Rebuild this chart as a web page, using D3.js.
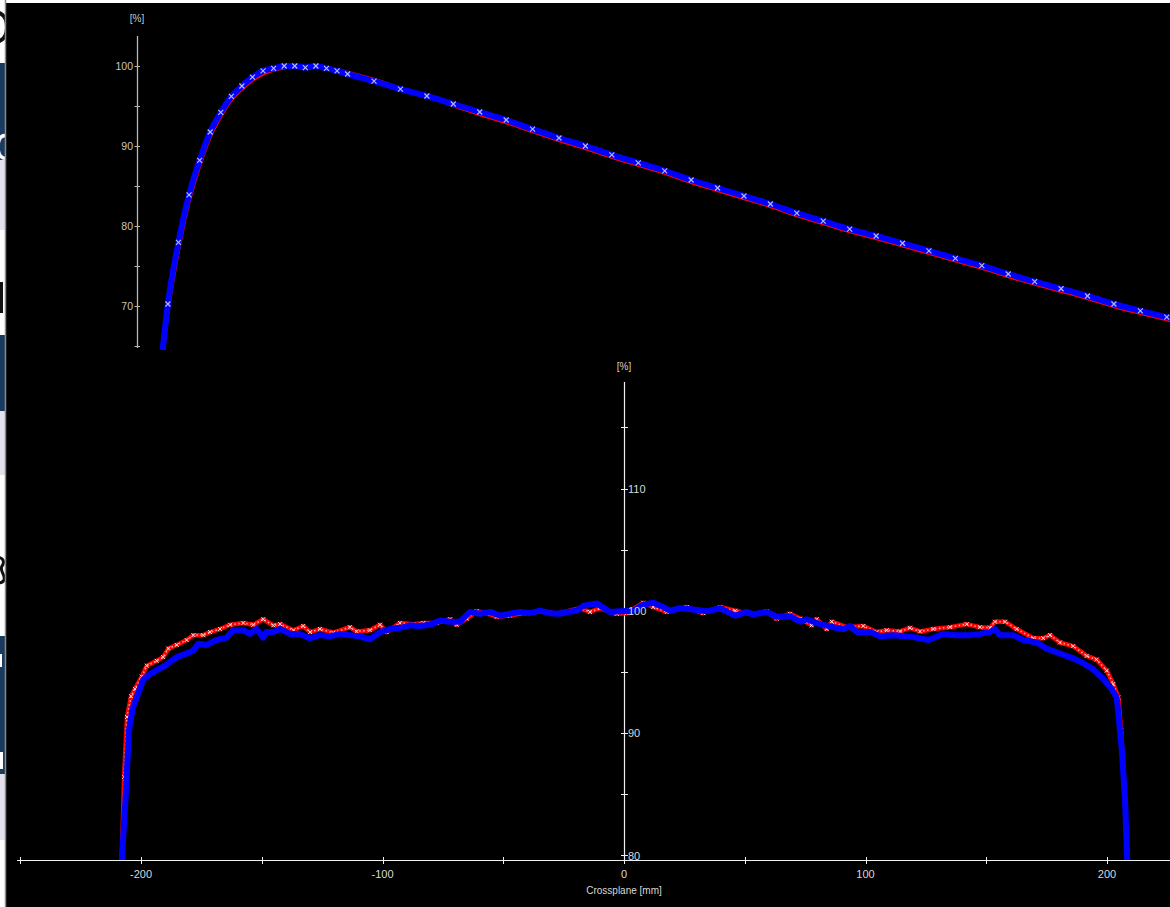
<!DOCTYPE html>
<html><head><meta charset="utf-8">
<script src="https://cdn.jsdelivr.net/npm/d3@7/dist/d3.min.js"></script>
<style>html,body{margin:0;padding:0;background:#fff;overflow:hidden}svg{display:block}</style>
</head><body>
<svg id="c" width="1170" height="907"></svg>
<script>
// ---------- DATA ----------
// Depth dose (top panel): depth in mm, dose in %
const pddDepth = [2.5,3,4,5,6,7,8,9,10,11,12,13,14,15,16,17,18,19,20,22.5,25,27.5,30,32.5,35,37.5,40,42.5,45,47.5,50,52.5,55,57.5,60,62.5,65,67.5,70,72.5,75,77.5,80,82.5,85,87.5,90,92.5,95,97.5,100];
const pddMeasured = [64.5,70.25,77.96,83.9,88.2,91.75,94.2,96.2,97.5,98.6,99.4,99.7,100,100,99.8,100,99.7,99.4,99.0,98.1,97.1,96.25,95.25,94.25,93.25,92.1,91.0,90.0,88.9,87.9,86.9,85.75,84.75,83.75,82.75,81.6,80.6,79.6,78.75,77.84,76.9,75.96,75.04,74.0,73.04,72.16,71.25,70.25,69.4,68.6,67.8];
const pddCalculated = [62.5,68.5,76.5,82.7,87.2,90.9,93.5,95.6,97.0,98.1,98.9,99.4,99.7,99.9,99.95,99.9,99.8,99.6,99.3,98.4,97.3,96.2,94.95,93.85,92.85,91.7,90.6,89.6,88.5,87.5,86.5,85.35,84.35,83.35,82.35,81.2,80.2,79.2,78.35,77.44,76.5,75.56,74.64,73.6,72.64,71.76,70.85,69.85,69.0,68.2,67.4];
const pddTicks = [70,80,90,100];
const pddMinorTicks = [65,75,85,95];

// Crossplane profile (bottom panel): position in mm, dose in %
const profBluePos = [-209.5,-207.8,-206.2,-205.0,-203.5,-201.8,-199.0,-196.3,-193.0,-190.0,-185.2,-181.1,-178.3,-176.3,-172.8,-168.7,-164.5,-161.8,-157.6,-154.9,-152.1,-149.4,-148.0,-145.2,-142.4,-138.3,-134.2,-130.0,-125.9,-121.7,-117.6,-113.5,-109.3,-105.2,-101.0,-96.9,-92.8,-88.6,-84.5,-80.3,-76.2,-72.0,-67.9,-63.8,-59.6,-55.5,-51.3,-47.2,-43.1,-38.9,-34.8,-30.6,-26.5,-23.7,-19.6,-16.8,-11.3,-5.8,-1.7,3.9,8.0,12.1,16.3,19.0,23.2,28.7,34.2,39.8,46.0,50.8,53.5,59.1,63.2,68.7,72.9,75.6,81.2,86.7,90.8,93.6,96.4,101.9,106.0,111.5,117.1,121.2,126.0,132.2,137.8,143.3,147.4,151.6,153.6,155.7,161.2,165.3,170.9,175.0,180.5,186.0,190.2,194.3,198.5,201.9,204.0,204.6,206.2,207.5,208.3,209.5];
const profBlueVal = [70,80,85.3,90.2,92.0,92.9,94.4,94.8,95.2,95.5,96.2,96.5,96.75,97.3,97.2,97.6,97.8,98.4,98.4,98.1,98.5,97.8,98.25,98.25,98.5,98.1,98.1,97.75,98.0,97.9,98.1,98.0,97.9,97.65,98.25,98.5,98.6,98.8,98.75,98.85,99.2,99.1,99.1,99.9,99.75,99.9,99.6,99.75,99.9,99.8,100.0,99.8,99.75,99.9,100.0,100.4,100.6,99.9,99.95,100.0,100.5,100.65,100.3,100.0,100.2,100.1,99.95,100.2,99.6,99.9,99.7,99.9,99.5,99.55,99.1,99.3,98.9,98.65,98.5,98.75,98.25,98.25,97.9,98.0,97.9,97.8,97.6,98.1,98.0,98.0,98.1,98.25,98.5,98.0,98.0,97.6,97.4,96.9,96.5,96.1,95.7,95.2,94.4,93.6,92.9,91.8,88.5,84.4,80,72];
const profRedPos = [-209.5,-207.9,-207.0,-205.8,-204.1,-202.5,-199.7,-197.6,-193.5,-190.8,-188.7,-185.2,-181.1,-178.3,-174.2,-171.4,-167.3,-163.1,-157.6,-153.5,-149.4,-145.2,-142.4,-136.9,-132.8,-130.0,-125.9,-120.4,-113.5,-110.7,-105.2,-101.0,-98.3,-92.8,-87.2,-83.1,-77.6,-72.0,-69.3,-65.1,-61.0,-56.9,-52.7,-47.2,-41.7,-33.4,-27.9,-18.2,-14.1,-9.9,-3.0,1.1,8.0,12.1,17.7,26.0,32.8,39.8,46.0,53.5,59.1,63.2,68.7,72.9,77.7,79.8,83.9,86.0,92.2,99.1,104.6,108.8,114.3,118.4,122.6,128.1,135.0,141.9,147.4,151.6,153.6,157.8,162.6,169.5,173.6,176.4,180.5,186.0,191.6,195.7,199.9,202.6,204.7,205.8,207.5,208.3,209.5];
const profRedVal = [70,80,86.4,91.3,93.0,93.6,94.6,95.5,95.9,96.2,96.9,97.2,97.6,98.0,98.0,98.25,98.5,98.85,99.0,98.85,99.3,98.8,98.9,98.4,98.75,98.25,98.5,98.2,98.65,98.3,98.4,98.85,98.25,99.0,98.9,99.0,99.0,99.3,98.85,99.35,99.95,99.8,99.5,99.6,99.8,99.95,99.75,100.2,99.9,100.2,99.75,99.8,100.65,100.3,99.9,100.3,99.8,100.3,100.0,99.7,99.95,99.35,99.75,99.35,98.8,99.3,98.5,99.1,98.65,98.75,98.25,98.4,98.3,98.6,98.3,98.5,98.65,98.9,98.65,98.6,99.1,99.1,98.5,97.75,97.75,98.0,97.4,97.1,96.3,96.0,95.1,94.0,92.9,90.2,84.4,80,72];
const profYTicks = [80,90,100,110];
const profYMinorTicks = [85,95,105,115];
const profXTicks = [-200,-100,0,100,200];
const profXMinorTicks = [-250,-150,-50,50,150];

// ---------- DRAW ----------
const svg = d3.select("#c");
const W = 1170, H = 907;

// background: slide remnants on the left edge, black chart window
svg.append("rect").attr("width", W).attr("height", H).attr("fill", "#fff");
const strip = [[63,160,"#1b3a60"],[160,230,"#e4e0ec"],[335,411,"#1b3a60"],[411,475,"#e4e0ec"],[636,774,"#1b3a60"],[774,840,"#e4e0ec"]];
strip.forEach(s => svg.append("rect").attr("x",0).attr("y",s[0]).attr("width",5).attr("height",s[1]-s[0]).attr("fill",s[2]));
const dec = svg.append("g").attr("fill","none").attr("stroke-linecap","butt");
dec.append("path").attr("d","M-6,12 C4,12 7,20 7,27 C7,34 4,42 -6,42").attr("stroke","#111").attr("stroke-width",4);
dec.append("path").attr("d","M6,136 C1,134 -2,140 -2,147 C-2,154 1,159 6,158").attr("stroke","#fff").attr("stroke-width",3.5);
dec.append("rect").attr("x",0).attr("y",282).attr("width",3).attr("height",31).attr("fill","#111");
dec.append("path").attr("d","M-4,558 C3,556 5,562 2,566 C-1,571 6,575 4,580 C2,584 -3,583 -4,582").attr("stroke","#111").attr("stroke-width",3);
dec.append("rect").attr("x",0).attr("y",752).attr("width",3).attr("height",17).attr("fill","#fff");
dec.append("rect").attr("x",0).attr("y",654).attr("width",2).attr("height",13).attr("fill","#fff");
svg.append("rect").attr("x",6).attr("y",3).attr("width",W-6).attr("height",H-3).attr("fill","#000");
svg.append("line").attr("x1",5.5).attr("x2",5.5).attr("y1",0).attr("y2",H).attr("stroke","#8a8a8a").attr("stroke-width",1.5);

const defs = svg.append("defs");
defs.append("clipPath").attr("id","clipTop").append("rect").attr("x",138).attr("y",4).attr("width",W-138).attr("height",346);
defs.append("clipPath").attr("id","clipBot").append("rect").attr("x",6).attr("y",370).attr("width",W-6).attr("height",490);

const FONT = "Liberation Sans, Arial, sans-serif";

// ---- top panel (depth dose) ----
const xDepth = d3.scaleLinear().domain([0,100]).range([136.2, 136.2 + 1057]);
const yPdd = d3.scaleLinear().domain([65,100]).range([346,66]);
const topG = svg.append("g");
const axCol = "#b8b8b8";
topG.append("line").attr("x1",137.5).attr("x2",137.5).attr("y1",36).attr("y2",348).attr("stroke",axCol).attr("stroke-width",1.3);
topG.selectAll("line.tk").data(pddTicks.concat(pddMinorTicks)).join("line")
  .attr("x1",134.5).attr("x2",140).attr("y1",d=>yPdd(d)+0.5).attr("y2",d=>yPdd(d)+0.5).attr("stroke",axCol).attr("stroke-width",1);
topG.selectAll("text.tl").data(pddTicks).join("text")
  .attr("x",133).attr("y",d=>yPdd(d)+4).attr("text-anchor","end").attr("font-family",FONT).attr("font-size",10.5).attr("fill","#c8c8c8").text(d=>d);
topG.append("text").attr("x",137).attr("y",22).attr("text-anchor","middle").attr("font-family",FONT).attr("font-size",10).attr("fill","#c8c8c8").text("[%]");

const pddG = topG.append("g").attr("clip-path","url(#clipTop)");
const lineCalc = d3.line().x((d,i)=>xDepth(pddDepth[i])).y(d=>yPdd(d)).curve(d3.curveMonotoneX);
pddG.append("path").attr("d",lineCalc(pddCalculated)).attr("fill","none").attr("stroke","#ff0000").attr("stroke-width",2);
pddG.append("path").attr("d",lineCalc(pddMeasured)).attr("fill","none").attr("stroke","#0000ff").attr("stroke-width",6);
const xm = 2.5;
pddG.selectAll("path.mk").data(pddMeasured.slice(1)).join("path")
  .attr("d",(d,i)=>{const x=xDepth(pddDepth[i+1]), y=yPdd(d); return `M${x-xm},${y-xm}L${x+xm},${y+xm}M${x-xm},${y+xm}L${x+xm},${y-xm}`;})
  .attr("stroke","#b4b8f4").attr("stroke-width",1.2).attr("fill","none");

// ---- bottom panel (crossplane profile) ----
const xProf = d3.scaleLinear().domain([-250,250]).range([624-250*2.415, 624+250*2.415]);
const yProf = d3.scaleLinear().domain([80,110]).range([855.1, 488.5]);
const botG = svg.append("g");
const white = "#f0f0f0";
botG.append("line").attr("x1",624.5).attr("x2",624.5).attr("y1",382).attr("y2",861).attr("stroke",white).attr("stroke-width",1.2);
botG.selectAll("line.ytk").data(profYTicks.concat(profYMinorTicks)).join("line")
  .attr("x1",621).attr("x2",628).attr("y1",d=>Math.round(yProf(d))+0.5).attr("y2",d=>Math.round(yProf(d))+0.5).attr("stroke",white).attr("stroke-width",1);
botG.append("text").attr("x",624).attr("y",370).attr("text-anchor","middle").attr("font-family",FONT).attr("font-size",10).attr("fill","#d0d0d0").text("[%]");

const profG = botG.append("g").attr("clip-path","url(#clipBot)");
const lineRed = d3.line().x((d,i)=>xProf(profRedPos[i])).y(d=>yProf(d));
const lineBlue = d3.line().x((d,i)=>xProf(profBluePos[i])).y(d=>yProf(d));
profG.append("path").attr("d",lineRed(profRedVal)).attr("fill","none").attr("stroke","#ff0000").attr("stroke-width",4.5).attr("stroke-linejoin","round");
profG.append("path").attr("d",lineRed(profRedVal)).attr("fill","none").attr("stroke","#ff9c9c").attr("stroke-width",1.6).attr("stroke-dasharray","1.5,2.5");
const pm = 2;
profG.selectAll("path.rmk").data(profRedVal).join("path")
  .attr("d",(d,i)=>{const x=xProf(profRedPos[i]), y=yProf(d); return `M${x-pm},${y-pm}L${x+pm},${y+pm}M${x-pm},${y+pm}L${x+pm},${y-pm}`;})
  .attr("stroke","#ffd6d6").attr("stroke-width",1).attr("fill","none");
profG.append("path").attr("d",lineBlue(profBlueVal)).attr("fill","none").attr("stroke","#0000ff").attr("stroke-width",6).attr("stroke-linejoin","round");

botG.selectAll("text.ytl").data(profYTicks).join("text")
  .attr("x",628).attr("y",d=>yProf(d)+4.5).attr("font-family",FONT).attr("font-size",11).attr("fill","#d8d8d8").text(d=>d);

// x axis
botG.append("line").attr("x1",17).attr("x2",W).attr("y1",860.5).attr("y2",860.5).attr("stroke",white).attr("stroke-width",1.2);
botG.selectAll("line.xtk").data(profXTicks.concat(profXMinorTicks)).join("line")
  .attr("x1",d=>Math.round(xProf(d))+0.5).attr("x2",d=>Math.round(xProf(d))+0.5).attr("y1",857).attr("y2",864).attr("stroke",white).attr("stroke-width",1);
botG.selectAll("text.xtl").data(profXTicks).join("text")
  .attr("x",d=>xProf(d)).attr("y",878).attr("text-anchor","middle").attr("font-family",FONT).attr("font-size",11).attr("fill","#d8d8d8").text(d=>d);
botG.append("text").attr("x",624).attr("y",894).attr("text-anchor","middle").attr("font-family",FONT).attr("font-size",10).attr("fill","#d8d8d8").text("Crossplane [mm]");
</script>
</body></html>
